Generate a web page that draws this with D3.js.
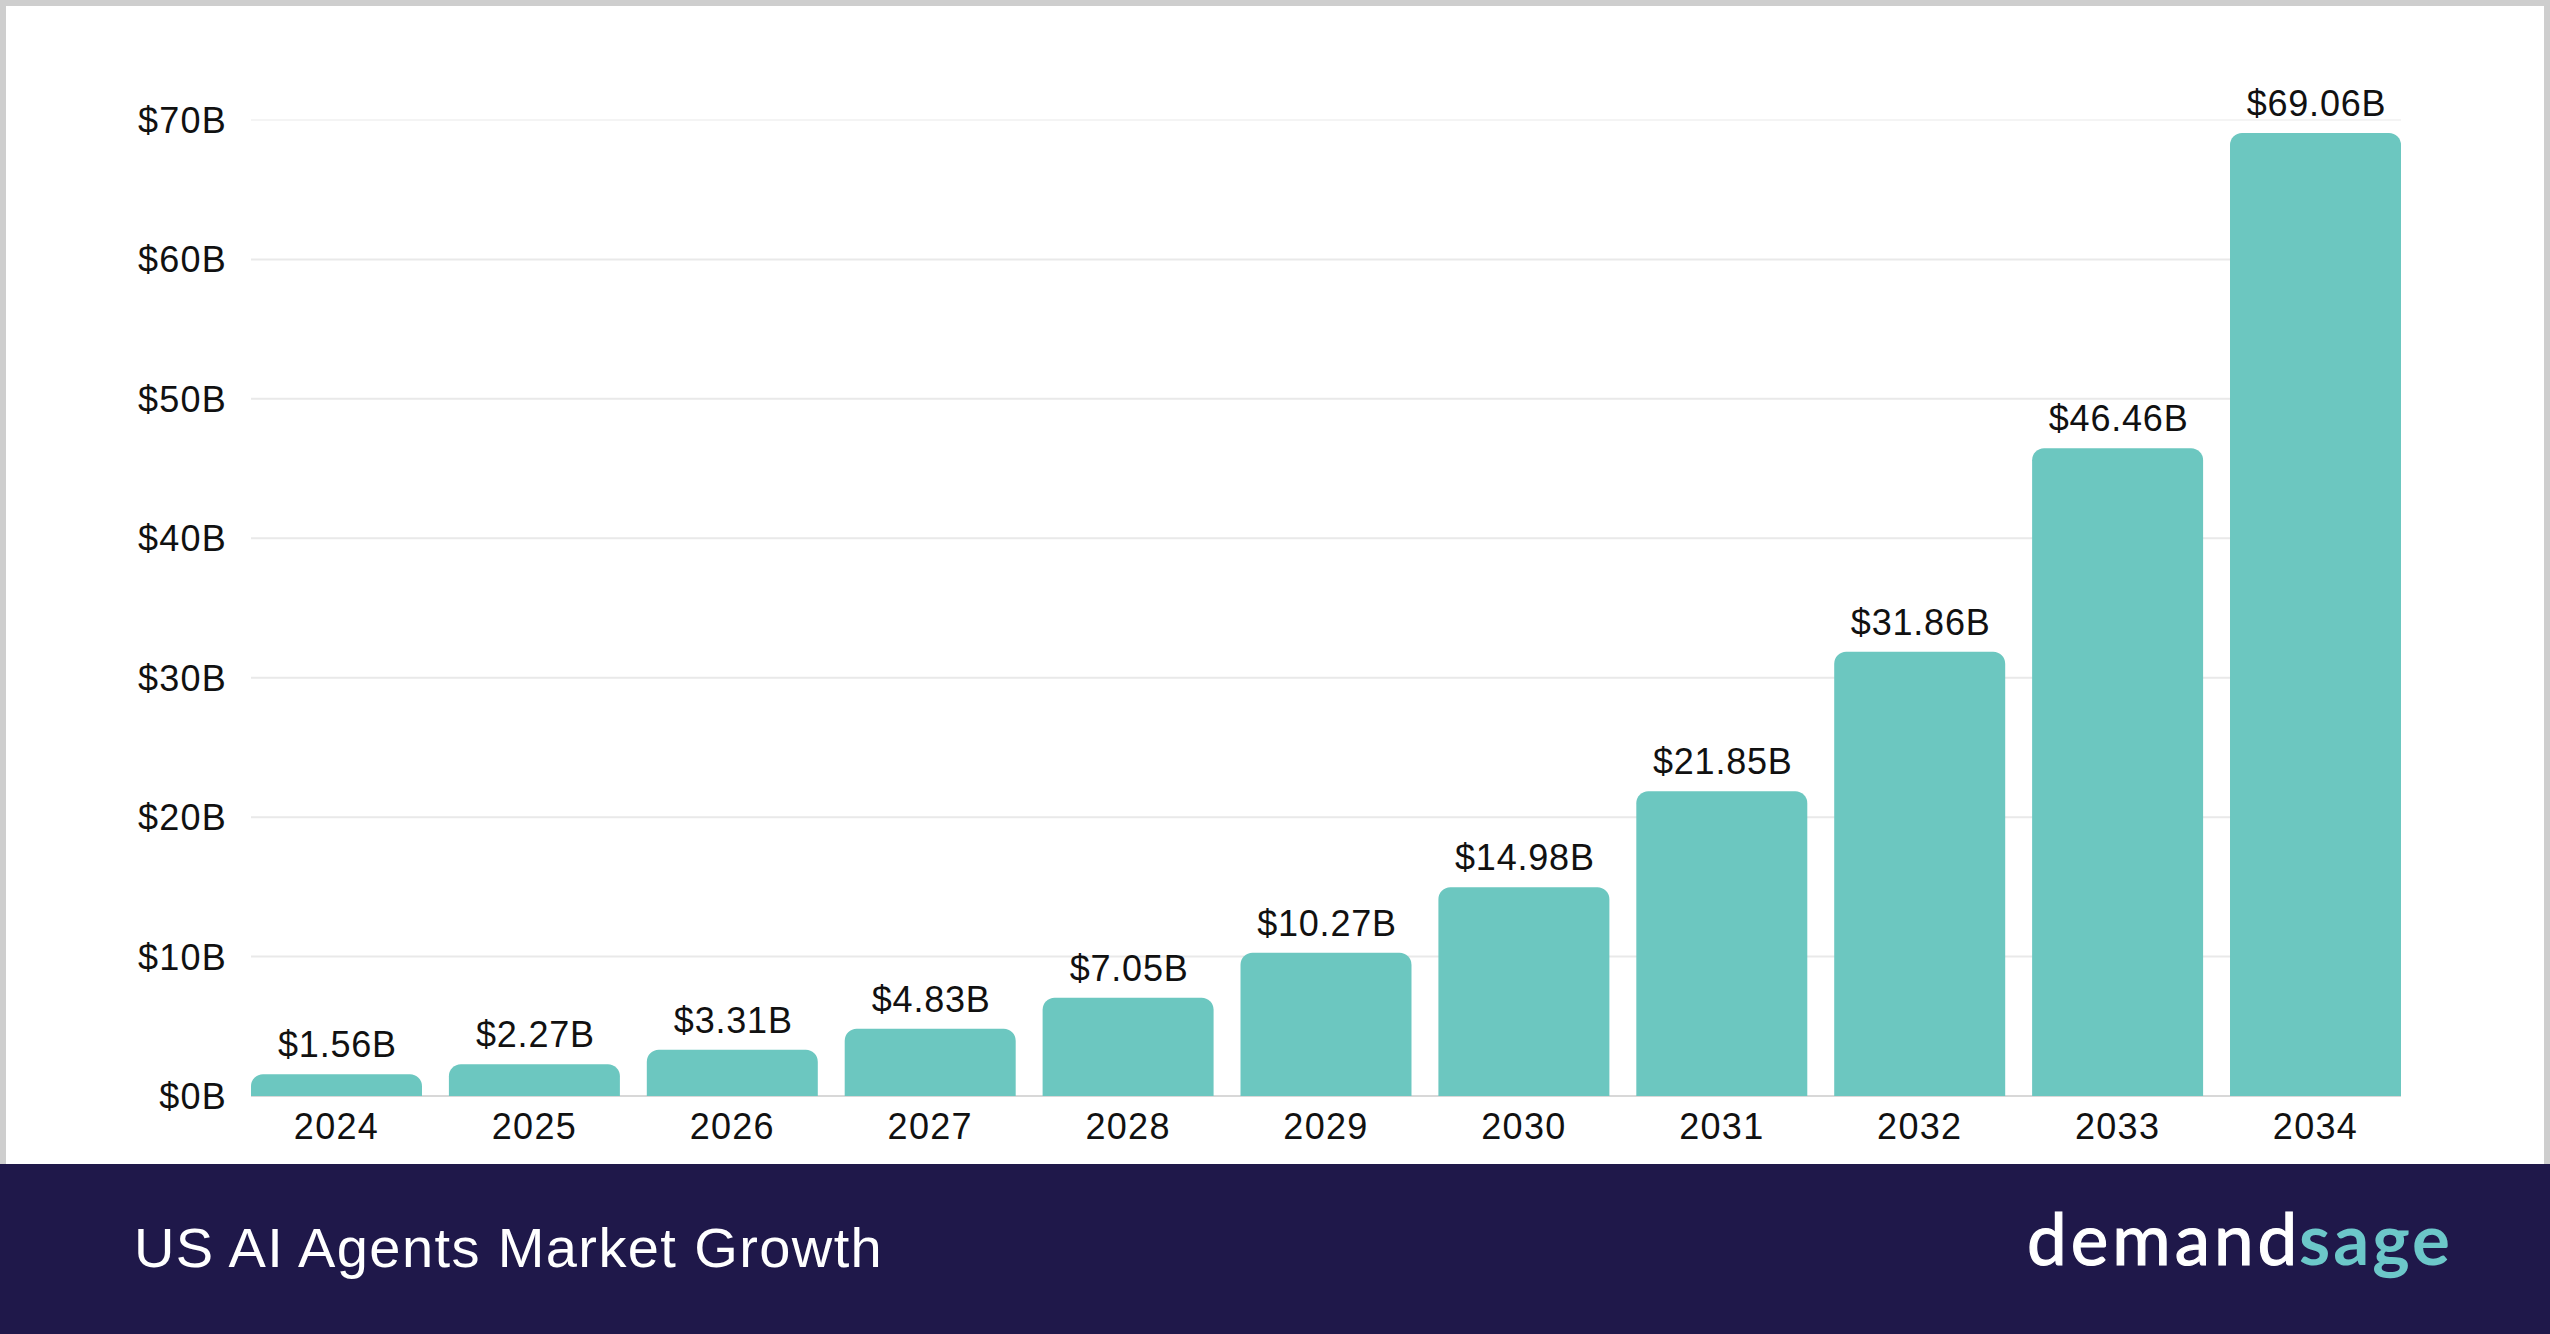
<!DOCTYPE html>
<html>
<head>
<meta charset="utf-8">
<script src="https://cdn.jsdelivr.net/npm/d3@7"></script>
<style>
  html, body { margin: 0; padding: 0; background: #fff; overflow: hidden; }
  svg { display: block; }
  text { font-family: "Liberation Sans", sans-serif; fill: #111; }
</style>
</head>
<body>
<svg class="chart"></svg>
<script>
const years = ["2024","2025","2026","2027","2028","2029","2030","2031","2032","2033","2034"];
const market = [1.56, 2.27, 3.31, 4.83, 7.05, 10.27, 14.98, 21.85, 31.86, 46.46, 69.06];
const marketLabels = ["$1.56B","$2.27B","$3.31B","$4.83B","$7.05B","$10.27B","$14.98B","$21.85B","$31.86B","$46.46B","$69.06B"];
const yTicks = [0, 10, 20, 30, 40, 50, 60, 70];
const title = "US AI Agents Market Growth";

const W = 2550, H = 1334;
const left = 251, right = 2401, top_ = 120, bottom = 1096;
const radius = 12;

const svg = d3.select("svg.chart").attr("width", W).attr("height", H);

// grey frame, white panel, dark footer
svg.append("rect").attr("width", W).attr("height", H).attr("fill", "#cecece");
svg.append("rect").attr("x", 6).attr("y", 6).attr("width", W - 12).attr("height", 1160).attr("fill", "#fff");
svg.append("rect").attr("y", 1164).attr("width", W).attr("height", H - 1164).attr("fill", "#1f184a");

const x = d3.scaleBand().domain(years).range([left, right]).paddingInner(0.136);
const y = d3.scaleLinear().domain([0, 70]).range([bottom, top_]);

svg.append("g").selectAll("line")
  .data(yTicks)
  .join("line")
    .attr("x1", left)
    .attr("x2", right)
    .attr("y1", d => y(d))
    .attr("y2", d => y(d))
    .attr("stroke", d => d === 0 ? "#d8d8d8" : d === 70 ? "#f4f4f4" : "#e9e9e9")
    .attr("stroke-width", 2);

function barPath(d, i) {
  const x0 = x(years[i]), x1 = x0 + x.bandwidth(), y0 = y(d), r = radius;
  const p = d3.path();
  p.moveTo(x0, bottom);
  p.lineTo(x0, y0 + r);
  p.arcTo(x0, y0, x0 + r, y0, r);
  p.lineTo(x1 - r, y0);
  p.arcTo(x1, y0, x1, y0 + r, r);
  p.lineTo(x1, bottom);
  p.closePath();
  return p.toString();
}

svg.append("g").selectAll("path")
  .data(market)
  .join("path")
    .attr("d", barPath)
    .attr("fill", "#6cc7c0");

svg.append("g").selectAll("text")
  .data(market)
  .join("text")
    .attr("x", (d, i) => x(years[i]) + x.bandwidth() / 2 + 1)
    .attr("y", d => y(d) - 17)
    .attr("text-anchor", "middle")
    .style("font-size", "36px")
    .style("letter-spacing", "0.8px")
    .text((d, i) => marketLabels[i]);

const yAxis = svg.append("g")
  .attr("transform", `translate(${left},1)`)
  .call(d3.axisLeft(y).tickValues(yTicks).tickFormat(d => `$${d}B`).tickSize(0).tickPadding(24));
yAxis.select(".domain").remove();
yAxis.selectAll("text")
  .style("font-size", "36px")
  .style("letter-spacing", "1.2px")
  .attr("fill", null);

const xAxis = svg.append("g")
  .attr("transform", `translate(0,${bottom})`)
  .call(d3.axisBottom(x).tickSize(0));
xAxis.select(".domain").remove();
xAxis.selectAll("text")
  .attr("y", 43)
  .attr("dy", 0)
  .attr("fill", null)
  .style("font-size", "36px")
  .style("letter-spacing", "1.3px");

svg.append("text")
  .attr("x", 134)
  .attr("y", 1267)
  .style("font-size", "56px")
  .style("letter-spacing", "1.4px")
  .style("fill", "#fff")
  .text(title);

const logo = svg.append("text")
  .attr("y", 1265)
  .style("font-family", "Lato, sans-serif")
  .style("font-size", "71px");
logo.append("tspan").attr("x", 2027).style("fill", "#fff").style("stroke", "#fff").style("stroke-width", 1.2).style("letter-spacing", "4px").text("demand");
logo.append("tspan").attr("x", 2299).style("fill", "#6cc7c9").style("font-weight", 700).style("letter-spacing", "3px").text("sage");
</script>
</body>
</html>
